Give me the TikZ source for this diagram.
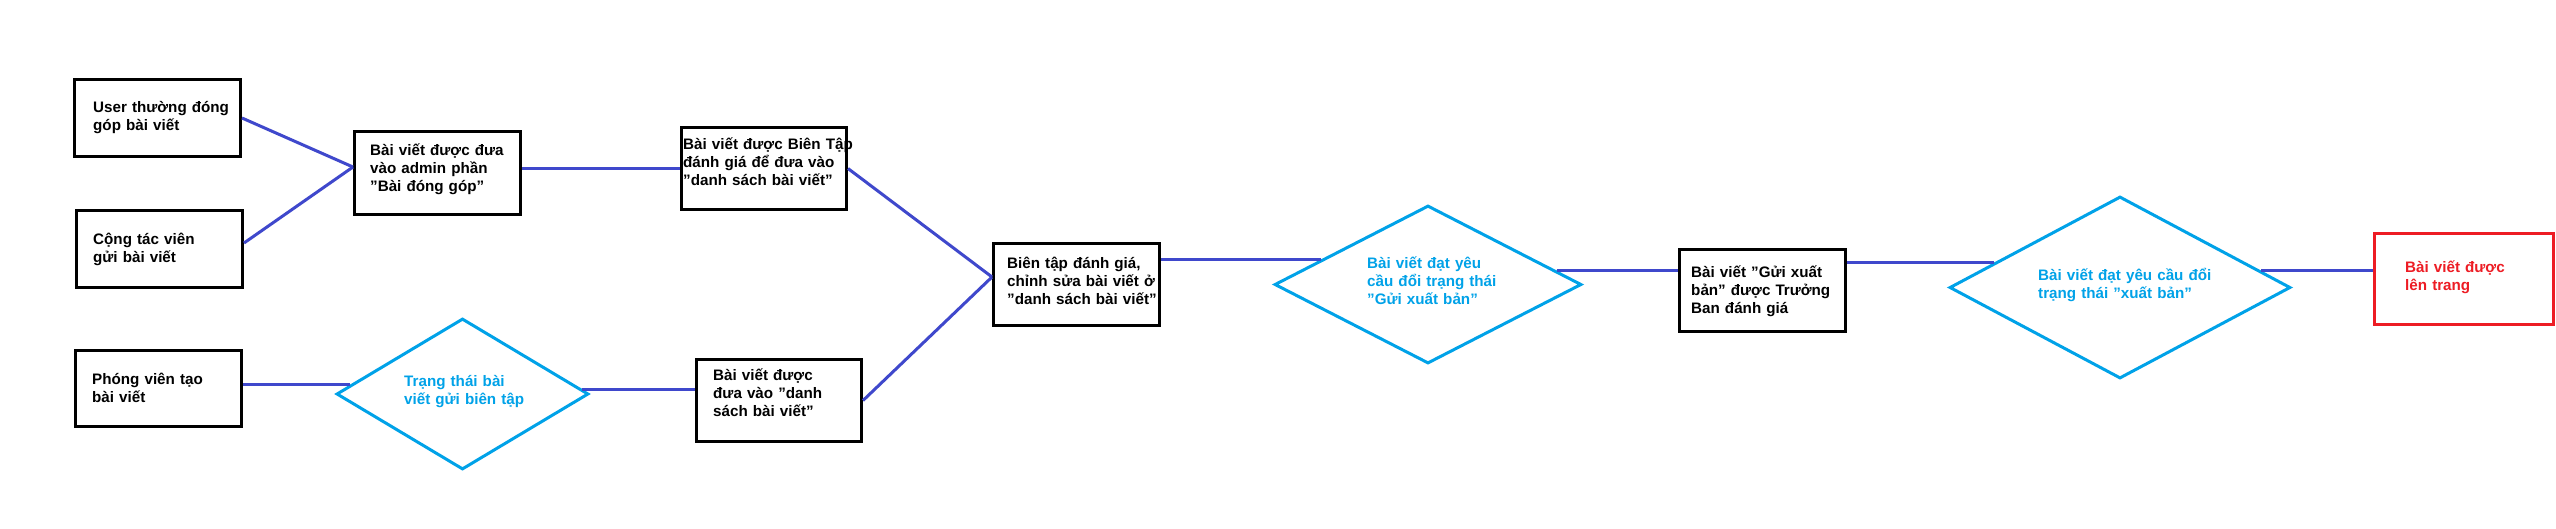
\documentclass[tikz,border=0pt]{standalone}
\usepackage{fontspec}
\setmainfont{Liberation Sans}
\usetikzlibrary{shapes.geometric,calc}
\definecolor{linkblue}{RGB}{63,72,204}
\definecolor{decblue}{RGB}{0,162,232}
\definecolor{endred}{RGB}{237,28,36}
\begin{document}
\begin{tikzpicture}[x=1pt,y=-1pt,
  box/.style={draw=black, line width=3pt, minimum width=166pt, minimum height=82pt, inner sep=0pt},
  dec/.style={diamond, draw=decblue, line width=3pt, inner sep=0pt},
  link/.style={draw=linkblue, line width=3pt},
  txt/.style={anchor=base west, inner sep=0pt, align=left, text width=260pt,
    font=\bfseries\fontsize{15.2}{18.3}\selectfont}
]
\fill[white] (0,0) rectangle (2556,528);
\useasboundingbox (0,0) rectangle (2556,528);

% boxes
\node[box, minimum height=77pt] (A) at (157.5,118) {};
\node[box, minimum height=77pt] (B) at (159.5,249) {};
\node[box, minimum height=83pt] (C) at (437.5,173) {};
\node[box, minimum height=76pt] (D) at (158.5,388.5) {};
\node[box, minimum width=165pt] (F) at (764,168.5) {};
\node[box, minimum width=165pt] (G) at (779,400.5) {};
\node[box] (H) at (1076.5,284.5) {};
\node[box] (J) at (1762.5,290.5) {};
\node[box, draw=endred, minimum width=179pt, minimum height=91pt] (L) at (2464,279) {};

% decisions
\node[dec, minimum width=252pt, minimum height=151pt] (E) at (462.5,394) {};
\node[dec, minimum width=307pt, minimum height=158pt] (I) at (1428,284.5) {};
\node[dec, minimum width=341pt, minimum height=182pt] (K) at (2120,287.5) {};

% connector end points on diamond borders
\coordinate (Ein) at ($(E.west)!0.12!(E.north)$);
\coordinate (Eout) at ($(E.east)!0.065!(E.north)$);
\coordinate (Iin) at ($(I.west)!0.31!(I.north)$);
\coordinate (Iout) at ($(I.east)!0.17!(I.north)$);
\coordinate (Kin) at ($(K.west)!0.265!(K.north)$);
\coordinate (Kout) at ($(K.east)!0.18!(K.north)$);

% connectors
\draw[link] (A.east) -- ([yshift=6pt]C.west);
\draw[link] ([yshift=6pt]B.east) -- ([yshift=6pt]C.west);
\draw[link] ([yshift=5pt]C.east) -- ([yshift=5pt]C.east -| F.west);
\draw[link] (F.east) -- ([yshift=7.5pt]H.west);
\draw[link] (Ein -| D.east) -- (Ein);
\draw[link] (Eout) -- (Eout -| G.west);
\draw[link] (G.east) -- ([yshift=7.5pt]H.west);
\draw[link] (Iin -| H.east) -- (Iin);
\draw[link] (Iout) -- (Iout -| J.west);
\draw[link] (Kin -| J.east) -- (Kin);
\draw[link] (Kout) -- (Kout -| L.west);

% texts
\node[txt] (At) at (93,112) {User thường đóng\\góp bài viết};
\node[txt] (Bt) at (93,244) {Cộng tác viên\\gửi bài viết};
\node[txt] (Ct) at (370,155) {Bài viết được đưa\\vào admin phần\\"Bài đóng góp"};
\node[txt] (Dt) at (92,384) {Phóng viên tạo\\bài viết};
\node[txt, text=decblue] (Et) at (404,386) {Trạng thái bài\\viết gửi biên tập};
\node[txt] (Ft) at (683,149) {Bài viết được Biên Tập\\đánh giá để đưa vào\\"danh sách bài viết"};
\node[txt] (Gt) at (713,380) {Bài viết được\\đưa vào "danh\\sách bài viết"};
\node[txt] (Ht) at (1007,268) {Biên tập đánh giá,\\chỉnh sửa bài viết ở\\"danh sách bài viết"};
\node[txt, text=decblue] (It) at (1367,268) {Bài viết đạt yêu\\cầu đổi trạng thái\\"Gửi xuất bản"};
\node[txt] (Jt) at (1691,277) {Bài viết "Gửi xuất\\bản" được Trưởng\\Ban đánh giá};
\node[txt, text=decblue] (Kt) at (2038,280) {Bài viết đạt yêu cầu đổi\\trạng thái "xuất bản"};
\node[txt, text=endred] (Lt) at (2405,272) {Bài viết được\\lên trang};
\end{tikzpicture}
\end{document}
